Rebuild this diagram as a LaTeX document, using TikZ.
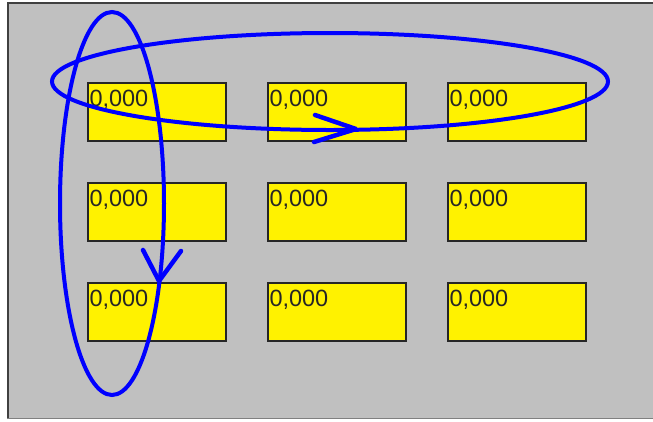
\documentclass[tikz,border=0pt]{standalone}
\usepackage{fontspec}
\setsansfont{Liberation Sans}
\definecolor{panel}{HTML}{C0C0C0}
\definecolor{pen}{HTML}{0000FF}
\begin{document}
\begin{tikzpicture}[
    x=1pt, y=-1pt,
    cell/.style={draw=black!85, line width=1.4pt, fill=yellow, minimum width=138pt, minimum height=58pt, inner sep=0pt},
    val/.style={anchor=north west, inner sep=0pt, font=\sffamily\fontsize{23.5}{24}\selectfont, text=black!85},
    loop/.style={draw=pen, line width=4pt},
    tip/.style={draw=pen, line width=4.5pt, line cap=round, line join=round},
]

% Frame
\useasboundingbox (0,0) rectangle (653,421);
\fill[white] (0,0) rectangle (653,421);
\fill[panel] (7,2) rectangle (653,419);
\draw[black!75, line width=2pt] (8,419) -- (8,3) -- (653,3);
\draw[gray, line width=1.5pt] (7,418.5) -- (653,418.5);

% Cells, first row
\node[cell] (c11) at (157,112) {};
\node[cell] (c12) at (337,112) {};
\node[cell] (c13) at (517,112) {};

% Cells, second row
\node[cell] (c21) at (157,212) {};
\node[cell] (c22) at (337,212) {};
\node[cell] (c23) at (517,212) {};

% Cells, third row
\node[cell] (c31) at (157,312) {};
\node[cell] (c32) at (337,312) {};
\node[cell] (c33) at (517,312) {};

% Values
\node[val] (v11) at ([shift={(2,8)}]c11.north west) {0,000};
\node[val] (v12) at ([shift={(2,8)}]c12.north west) {0,000};
\node[val] (v13) at ([shift={(2,8)}]c13.north west) {0,000};
\node[val] (v21) at ([shift={(2,8)}]c21.north west) {0,000};
\node[val] (v22) at ([shift={(2,8)}]c22.north west) {0,000};
\node[val] (v23) at ([shift={(2,8)}]c23.north west) {0,000};
\node[val] (v31) at ([shift={(2,8)}]c31.north west) {0,000};
\node[val] (v32) at ([shift={(2,8)}]c32.north west) {0,000};
\node[val] (v33) at ([shift={(2,8)}]c33.north west) {0,000};

% Row-wise loop
\coordinate (rowc) at (330,81.5);
\draw[loop] (rowc) ellipse [x radius=278, y radius=48.5];
\coordinate (rowtip) at (356,129);
\draw[tip] (315,115) -- (rowtip) -- (314,142);

% Column-wise loop
\coordinate (colc) at (112,203.5);
\draw[loop] (colc) ellipse [x radius=52, y radius=191.5];
\coordinate (coltip) at (159,281);
\draw[tip] (143,250) -- (coltip) -- (181,251);

\end{tikzpicture}
\end{document}
